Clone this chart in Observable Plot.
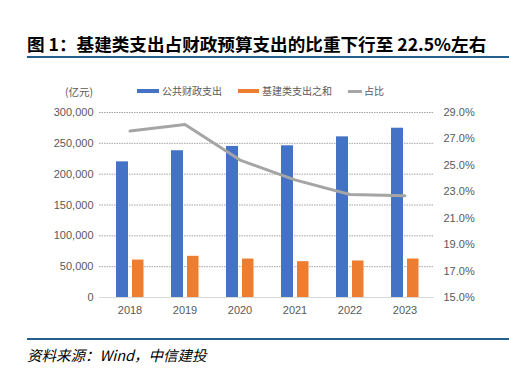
<!DOCTYPE html>
<html><head><meta charset="utf-8">
<script src="https://cdn.jsdelivr.net/npm/d3@7"></script>
<script src="https://cdn.jsdelivr.net/npm/@observablehq/plot@0.6"></script>
<style>
html,body{margin:0;padding:0;background:#fff;}
#wrap{position:relative;width:509px;height:388px;overflow:hidden;font-family:"Liberation Sans",Arial,sans-serif;}
#title{position:absolute;left:27px;top:33px;font-family:"Noto Sans CJK SC",sans-serif;font-weight:bold;font-size:17.6px;line-height:22px;color:#000;white-space:nowrap;}
#rule1{position:absolute;left:27px;top:56px;width:482px;height:2px;background:#245f8e;}
#rule2{position:absolute;left:27px;top:338px;width:482px;height:2px;background:#245f8e;}
#cap{position:absolute;left:27px;top:345px;font-family:"Noto Sans CJK SC",sans-serif;font-style:italic;font-size:14.5px;line-height:20px;color:#000;white-space:nowrap;}
#unit{position:absolute;left:65px;top:85px;font-family:"Noto Sans CJK SC",sans-serif;font-size:10.5px;line-height:14px;color:#595959;}
#legend{position:absolute;top:84px;left:0;font-family:"Noto Sans CJK SC",sans-serif;font-size:10px;color:#595959;}
.li{position:absolute;white-space:nowrap;line-height:14px;}
.sw{position:absolute;}
#chart{position:absolute;left:0;top:0;}
</style></head>
<body>
<div id="wrap">
<div id="chart"></div>
<div id="title">图 1：基建类支出占财政预算支出的比重下行至 22.5%左右</div>
<div id="rule1"></div>
<div id="unit">(亿元)</div>
<div id="legend"></div>
<div id="rule2"></div>
<div id="cap">资料来源：Wind，中信建投</div>
</div>
<script>
const years = ["2018","2019","2020","2021","2022","2023"];
const publicSpending = [220000, 238000, 245000, 246000, 260500, 274500];
const infraSpending = [60700, 66800, 62400, 58100, 59200, 62400];
const ratio = [27.6, 28.1, 25.4, 23.9, 22.8, 22.7];
const seriesNames = ["公共财政支出", "基建类支出之和", "占比"];
const seriesColors = ["#4472c4", "#ed7d31", "#a5a5a5"];
const leftTicks = [0, 50000, 100000, 150000, 200000, 250000, 300000];
const rightTicks = [15, 17, 19, 21, 23, 25, 27, 29];
const rightMin = 15, rightMax = 29;

const yMax = 300000;
const toLeft = p => (p - rightMin) / (rightMax - rightMin) * yMax;

const bars = years.map((y, i) => ({year: y, a: publicSpending[i], b: infraSpending[i], r: toLeft(ratio[i])}));
const rightTickPos = rightTicks.map(toLeft);

const fmt = d3.format(",");
const chart = Plot.plot({
  width: 509,
  height: 388,
  marginTop: 112,
  marginBottom: 91,
  marginLeft: 99,
  marginRight: 75,
  style: {fontFamily: '"Liberation Sans", Arial, sans-serif', fontSize: "11px", color: "#595959", background: "transparent"},
  x: {domain: years, padding: 0, label: null},
  y: {domain: [0, yMax], label: null},
  marks: [
    Plot.gridY(leftTicks.filter(d => d > 0), {stroke: "#8c8c8c", strokeOpacity: 1, strokeWidth: 0.8, strokeDasharray: "1.5,1"}),
    Plot.barY(bars, {x: "year", y: "a", fill: seriesColors[0], insetLeft: 14, insetRight: 29}),
    Plot.barY(bars, {x: "year", y: "b", fill: seriesColors[1], insetLeft: 30, insetRight: 13.5}),
    Plot.ruleY([0], {stroke: "#d9d9d9", strokeWidth: 1}),
    Plot.line(bars, {x: "year", y: "r", stroke: seriesColors[2], strokeWidth: 3, curve: "linear", strokeLinejoin: "round"}),
    Plot.axisY(leftTicks, {anchor: "left", tickSize: 0, tickPadding: 6, tickFormat: fmt, label: null, fill: "#595959"}),
    Plot.axisY(rightTickPos, {anchor: "right", tickSize: 0, tickPadding: 9, label: null, fill: "#595959",
      tickFormat: d => (rightMin + d / yMax * (rightMax - rightMin)).toFixed(1) + "%"}),
    Plot.axisX({tickSize: 0, tickPadding: 9, label: null, fill: "#595959"})
  ]
});
document.getElementById("chart").appendChild(chart);

// legend
const leg = document.getElementById("legend");
const legPos = [{sx: 137, sw: 22, tx: 162}, {sx: 238, sw: 21, tx: 262}, {sx: 348, sw: 14, tx: 364}];
seriesNames.forEach((n, i) => {
  const p = legPos[i];
  const sw = document.createElement("div");
  sw.className = "sw";
  sw.style.left = p.sx + "px";
  sw.style.width = p.sw + "px";
  sw.style.top = (i === 2 ? 6 : 5) + "px";
  sw.style.height = (i === 2 ? 3 : 4) + "px";
  sw.style.background = seriesColors[i];
  leg.appendChild(sw);
  const t = document.createElement("div");
  t.className = "li";
  t.style.left = p.tx + "px";
  t.style.top = "0px";
  t.textContent = n;
  leg.appendChild(t);
});
</script>
</body></html>
